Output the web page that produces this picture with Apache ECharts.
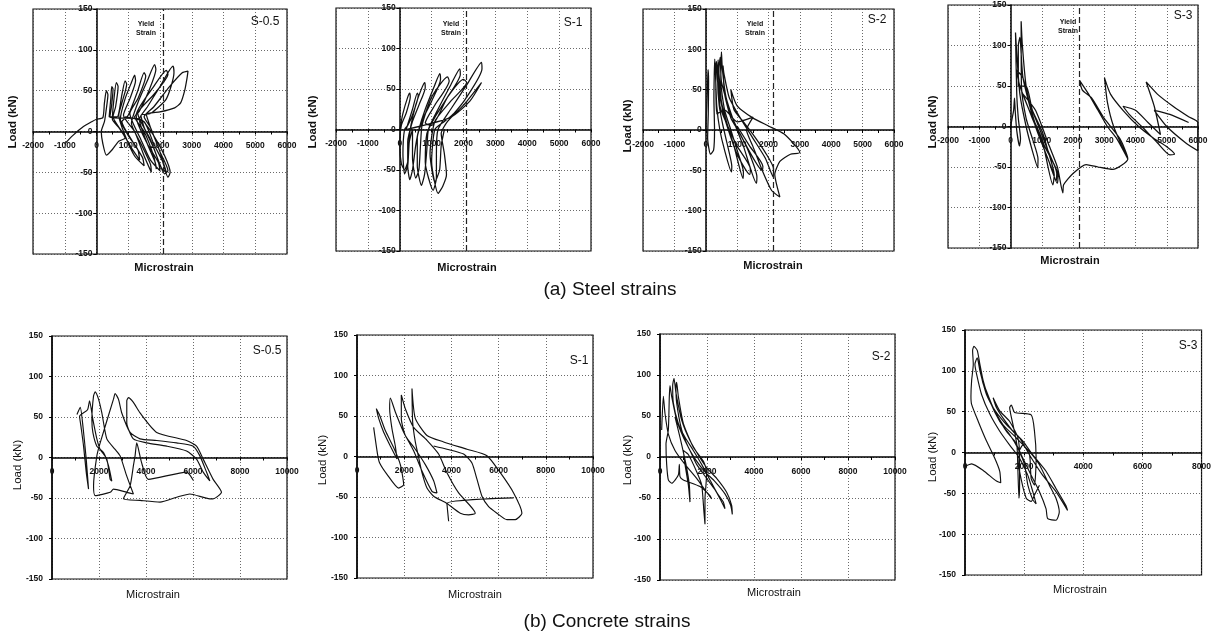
<!DOCTYPE html>
<html>
<head>
<meta charset="utf-8">
<script src="https://cdn.jsdelivr.net/npm/echarts@6/dist/echarts.min.js"></script>
<style>
html,body{margin:0;padding:0;background:#fff;}
#c{width:1214px;height:640px;}
</style>
</head>
<body>
<div id="c"></div>
<script>
// ---------- data (microstrain, load kN) ----------
const panelTitles = ['S-0.5', 'S-1', 'S-2', 'S-3', 'S-0.5', 'S-1', 'S-2', 'S-3'];
const captions = ['(a) Steel strains', '(b) Concrete strains'];
const steelXRange = [-2000, 6000];
const concXRange = [0, 10000];
const concXRangeS3 = [0, 8000];
const loadRange = [-150, 150];
const yieldStrain = [2100, 2100, 2150, 2200];
const yieldLabel = ['Yield', 'Strain'];

const steelS05 = [[-1000,-15],[-750,-5],[-450,5],[-150,12],[0,15],[200,17],
[250,35],[310,50],[360,45],[300,25],[250,12],
[150,0],[200,-15],[310,-29],[500,-22],[700,-12],[900,-8],[700,5],[500,15],
[550,40],[625,60],[680,55],[600,30],[520,18],
[800,0],[1100,-20],[1360,-35],[1300,-22],[1000,-5],[750,15],
[900,40],[1100,60],[1202,69],[1230,62],[1050,40],[850,20],
[1200,0],[1500,-30],[1727,-50],[1700,-40],[1400,-15],[1100,10],
[1300,35],[1600,62],[1832,82],[1870,76],[1650,50],[1350,25],[1200,18],
[1500,0],[1800,-30],[1885,-46],[1850,-38],[1600,-15],[1350,15],
[1600,30],[2000,55],[2410,80],[2440,72],[2200,40],[1700,22],
[1400,20],[1500,5],[1800,-20],[2147,-52],[2250,-48],[2000,-25],[1700,5],[1500,18],
[1800,30],[2300,55],[2700,72],[2882,74],[2850,65],[2777,50],[2650,35],[2462,29],[2000,24],[1570,21],
[1700,5],[2000,-25],[2252,-56],[2320,-50],[2150,-30],[1800,-5],[1400,15],
[400,18],[450,40],[480,55],[520,52],[470,30],[420,18],
[650,18],[800,45],[900,62],[950,58],[800,35],[700,20],
[900,-5],[1200,-30],[1500,-42],[1450,-32],[1100,-10],[800,12],
[1000,20],[1300,50],[1500,72],[1550,68],[1300,40],[1050,22],
[1400,-10],[1700,-35],[2000,-48],[1950,-38],[1600,-15],[1300,10],
[1250,20],[1800,55],[2200,75],[2250,70],[1800,45],[1300,22],
[1700,-10],[2050,-45],[2200,-50],[2100,-38],[1800,-15],[1500,12],[900,18]];

const steelS1 = [[0,0],[100,20],[250,40],[314,45],[330,40],[200,20],[50,5],
[0,-20],[50,-42],[150,-50],[250,-40],[300,-10],[350,5],
[500,30],[700,52],[785,58],[800,52],[600,30],[400,10],
[250,-15],[250,-45],[314,-62],[400,-50],[500,-20],[600,0],
[800,25],[1100,55],[1257,69],[1280,62],[1000,35],[750,15],
[550,-10],[550,-45],[680,-69],[780,-55],[850,-25],[900,0],
[1200,25],[1600,55],[1885,75],[1900,68],[1500,40],[1100,15],
[850,-5],[800,-40],[1047,-75],[1150,-60],[1150,-30],[1200,0],
[1600,25],[2100,55],[2565,83],[2580,75],[2100,40],[1700,20],[1400,10],
[1100,0],[1000,-40],[1204,-79],[1350,-70],[1466,-56],[1400,-30],[1300,-5],[1500,10],
[2000,30],[2565,58],[2200,35],[1600,15],
[200,0],[400,25],[550,45],[580,42],[400,18],[250,5],
[150,0],[100,-30],[150,-55],[250,-45],[300,-15],[400,0],
[400,-35],[500,-60],[600,-50],[650,-20],[700,5],
[1000,40],[1500,65],[1550,60],[1100,30],[800,8],
[1000,5],[1500,40],[2000,62],[2100,58],[1600,35],[1100,10],
[950,-30],[1100,-65],[1250,-50],[1300,-20],[1400,0]];

const steelS2 = [[0,0],[30,30],[60,60],[74,75],[90,60],[80,20],[60,-10],[150,-30],[250,-25],[280,0],
[260,40],[287,88],[310,70],[350,30],[450,0],[600,-25],[819,-52],[830,-45],[700,-20],[550,5],[430,30],
[380,60],[394,87],[420,70],[500,35],[700,5],[900,-20],[1191,-60],[1200,-52],[1000,-25],[800,0],[600,25],
[480,60],[500,97],[530,75],[650,40],[900,10],[1200,-20],[1617,-66],[1630,-58],[1400,-30],[1100,-5],[800,15],
[600,45],[550,80],[580,70],[750,40],[1100,15],[1500,-10],[1900,-35],[2149,-58],[2160,-48],[1900,-28],[1500,-5],[1200,10],
[900,25],[800,50],[1000,30],[1500,15],[2000,5],[2500,-5],[3000,-28],[2700,-30],[2362,-39],[2200,-55],[2362,-83],[2100,-75],[1800,-50],[1500,-20],[1300,0],[1510,16],
[1000,10],[600,25],[350,20],[320,70],[340,85],[380,60],[600,15],[1000,-30],[1400,-55],[1420,-48],[1000,-20],[700,5],
[450,30],[420,75],[460,90],[500,60],[800,20],[1300,-20],[1800,-50],[1820,-45],[1400,-20],[1000,5]];

const steelS3 = [[0,0],[100,20],[128,35],[150,20],[200,-5],[288,-24],[320,-15],[250,10],[200,40],[160,116],[200,90],[300,40],[500,0],[700,-30],[875,-51],[880,-40],[700,-15],[500,10],[350,50],[341,130],[380,100],[500,50],[700,15],[1000,-20],[1300,-50],[1461,-67],[1480,-58],[1200,-30],[900,0],[600,30],[400,60],[181,70],[300,50],[600,20],[1000,-15],[1355,-72],[1400,-60],[1200,-30],[1000,-5],[700,20],[500,50],
[250,50],[250,100],[300,110],[400,60],[800,0],[1200,-40],[1500,-70],[1520,-60],[1100,-25],[700,10],[400,40],
[800,20],[1200,-20],[1500,-50],[1675,-82],[1700,-72],[2000,-58],[2421,-47],[2800,-50],[3275,-53],[3755,-40],[3500,-15],[3000,10],[2600,35],[2300,45],[2208,57],[2500,40],[2800,20],[3100,0],[3400,-15],[3755,-40],[3300,0],[3100,30],[3008,60],[3200,40],[3600,20],[4100,0],[4600,-15],[5000,-25],[5248,-34],[5100,-35],[4700,-20],[4200,0],[3800,15],[3600,25],[4000,20],[4400,5],[4800,-10],[4600,25],[4341,55],[4700,40],[5200,25],[5700,12],[5995,5],[5995,-30],[5600,-20],[5000,0],[4600,20],[5100,15],[5700,5]];

const concS05 = [[1061,53],[1202,62],[1315,39],[1456,-2],[1555,-39],[1456,-18],[1343,14],[1230,39],[1174,51],
[1513,59],[1598,70],[1739,47],[1909,23],[2050,10],[2333,-2],[2475,-27],[2545,-29],[2404,-10],[2192,6],[1909,14],[1739,31],[1697,47],
[1768,76],[1838,81],[1980,72],[2121,55],[2333,23],[2687,10],[2899,2],[3182,-23],[3464,-45],[3182,-43],[2616,-39],[2475,-43],[1838,-47],[1768,-35],[1909,2],[2050,18],
[2616,72],[2687,79],[2828,72],[2969,55],[3323,31],[3747,23],[4454,21],[5303,18],[6010,14],[6292,2],[6575,-18],[6717,-29],[6434,-18],[6151,-2],[5727,8],[4878,14],[4030,18],[3464,23],[3182,43],
[3182,70],[3252,74],[3464,68],[3747,55],[4454,31],[5727,21],[6151,14],[6434,-2],[6858,-27],[7211,-43],[6858,-51],[6717,-51],[5868,-45],[5303,-49],[4596,-55],[3747,-53],[3040,-51],[3323,-35],[3464,-10],[3535,2],[3606,18],
[3800,-5],[4101,-27],[5727,-18],[6010,-28]];

const concS1 = [[706,36],[875,2],[960,-8],[1271,-22],[1765,-39],[1977,-35],[1836,-10],[1553,11],[1200,32],[960,51],[819,59],[918,47],[1130,30],[1412,13],[1694,-3],
[1624,13],[1483,34],[1384,59],[1412,72],[1624,55],[1977,30],[2400,7],[2753,-18],[3177,-43],[3389,-45],[3248,-30],[2895,-10],[2471,9],[2047,26],[1878,47],
[1878,76],[2047,59],[2400,36],[2965,20],[3459,3],[3812,-20],[4307,-45],[5013,-70],[4730,-72],[4377,-70],[3812,-58],[3248,-49],[2965,-39],[2753,-20],[2612,-1],[2471,18],[2358,43],
[2330,84],[2471,47],[2965,26],[3671,18],[4660,9],[5507,1],[6072,-20],[6636,-45],[6989,-70],[6707,-78],[6354,-78],[5930,-70],[5577,-62],[5295,-49],[5083,-28],[4871,-8],[4518,3],[3812,9],[3248,13]];
const concS1Tail = [[6636,-51],[3812,-58],[3883,-80]];

const concS2 = [[71,33],[142,74],[213,53],[355,28],[638,8],[1064,-9],[1560,-26],[1985,-43],[2198,-51],[2127,-47],[1702,-36],[993,-28],[851,-24],[822,-9],[780,-22],[496,-32],[355,-28],[284,-9],[255,16],[355,33],
[397,74],[425,87],[496,74],[709,45],[993,24],[1276,8],[1560,-9],[1985,-26],[2340,-40],[2552,-51],[2765,-63],[2694,-55],[2411,-43],[2127,-28],[1773,-9],[1418,8],[1064,24],[780,41],[567,66],
[539,87],[596,96],[681,78],[922,45],[1276,20],[1702,-1],[1985,-13],[2411,-26],[2836,-43],[3049,-59],[3077,-70],[3006,-59],[2765,-45],[2340,-30],[1914,-18],[1560,-5],[1205,12],[922,33],[709,66],
[681,83],[709,91],[780,74],[993,41],[1418,12],[1843,-5],[1985,-18],[1957,-34],[1914,-51],[1914,-82],[1872,-68],[1773,-34],[1560,-18],[1205,3],[993,8],[1064,-9],[1205,-34],[1276,-55],[1248,-34],[1106,-9],[851,24],[638,49]];

const concS3 = [[0,-17],[224,-14],[615,-22],[1063,-35],[1209,-37],[1175,-23],[1007,-7],[727,14],[448,38],[224,59],[201,69],
[224,88],[280,108],[257,125],[302,130],[414,125],[504,108],[615,88],[839,63],[1175,38],[1511,22],[1790,5],[2014,-15],[2126,-40],[2294,-58],[2406,-63],[2294,-48],[2126,-28],[1846,-7],[1511,9],[1175,26],[839,47],[560,71],[392,96],[336,108],
[414,116],[504,100],[727,71],[1063,47],[1399,26],[1679,14],[1958,-7],[2238,-28],[2518,-48],[2742,-69],[2797,-81],[3077,-83],[3189,-73],[3077,-56],[2853,-40],[2518,-15],[2182,1],[1734,18],[1287,34],[951,55],[727,75],[560,92],[504,104],
[615,84],[951,55],[1399,34],[1846,18],[2182,-3],[2630,-28],[3077,-48],[3469,-71],[3413,-65],[3077,-44],[2742,-23],[2294,-3],[1958,14],[1623,26],[1287,42],[1063,55],[951,67],
[1175,51],[1511,38],[1790,18],[1846,-7],[1846,-40],[1824,-56],[1790,-23],[1756,9],[1623,34],[1511,55],[1567,58],[1679,49],[2238,46],[2350,26],[2406,-7],[2350,-40],[2238,-32],[2182,-3],[1958,9],[1790,-3],[1846,-23],[2070,-56],[2238,-60],[2350,-52],[2518,-40]];

// ---------- layout ----------
const FONT = 'Liberation Sans, Arial, sans-serif';
const grids = [
  {left:33, top:9, width:254, height:245},
  {left:336, top:8, width:255, height:243},
  {left:643, top:9, width:251, height:242},
  {left:948, top:5, width:250, height:243},
  {left:52, top:336, width:235, height:243},
  {left:357, top:335, width:236, height:243},
  {left:660, top:334, width:235, height:246},
  {left:965, top:330, width:238, height:245}
];
const titlePos = [[265,22],[573,23],[877,20],[1183,16],[267,351],[579,361],[881,357],[1188,346]];
const loadPos = [[13,122],[313,122],[628,126],[933,122],[18,465],[323,460],[628,460],[933,457]];
const microPos = [[164,268],[467,268],[773,266],[1070,261],[153,595],[475,595],[774,593],[1080,590]];
const yieldPos = [[146,24],[451,24],[755,24],[1068,22]];

const xRanges = [steelXRange, steelXRange, steelXRange, steelXRange, concXRange, concXRange, concXRange, concXRangeS3];
const paths = [[steelS05],[steelS1],[steelS2],[steelS3],[concS05],[concS1, concS1Tail],[concS2],[concS3]];

const dotted = {show:true, lineStyle:{color:'#444', type:[1,2], width:0.8}};
const xAxes = [], yAxes = [], series = [];
for (let i = 0; i < 8; i++) {
  const top = i < 4;
  const g = grids[i];
  const xr = xRanges[i];
  const zeroFrac = (0 - xr[0]) / (xr[1] - xr[0]);
  xAxes.push({
    gridIndex:i, type:'value', min:xr[0], max:xr[1], interval: top ? 1000 : 2000,
    position:'bottom', offset: -g.height / 2,
    axisLine:{onZero:false, lineStyle:{color:'#000', width:1.5}},
    axisTick:{show:true, length:3, lineStyle:{color:'#000', width:1}},
    minorTick:{show:true, splitNumber:2, length:3, lineStyle:{color:'#000', width:1}},
    minorSplitLine:{show:false},
    axisLabel:{fontSize:8.5, fontWeight:'bold', color:'#111', margin:10, fontFamily:FONT,
      formatter: v => String(v)},
    splitLine:dotted
  });
  yAxes.push({
    gridIndex:i, type:'value', min:loadRange[0], max:loadRange[1], interval:50,
    position:'left', offset: -g.width * zeroFrac,
    axisLine:{onZero:false, lineStyle:{color:'#000', width:1.5}},
    axisTick:{show:true, length:3, lineStyle:{color:'#000', width:1}},
    axisLabel:{fontSize:8.5, fontWeight:'bold', color:'#111', margin: top ? 4 : 9, fontFamily:FONT,
      formatter: v => String(v)},
    splitLine:dotted
  });
  paths[i].forEach((arr, k) => {
    const s = {
      type:'line', xAxisIndex:i, yAxisIndex:i, data:arr, showSymbol:false, symbol:'none',
      smooth:0.2, silent:true, animation:false, z:3,
      lineStyle:{color:'#111', width: top ? 1.25 : 1.15}
    };
    if (top && k === 0) {
      s.markLine = {symbol:'none', silent:true, animation:false, label:{show:false},
        lineStyle:{color:'#222', type:[6,3], width:1.2},
        data:[{xAxis:yieldStrain[i]}]};
    }
    series.push(s);
  });
}

const graphics = [];
for (let i = 0; i < 8; i++) {
  graphics.push({type:'text', x:titlePos[i][0], y:titlePos[i][1], z:10,
    style:{text:panelTitles[i], font:'12px '+FONT, fill:'#111', textAlign:'center', textVerticalAlign:'middle', align:'center', verticalAlign:'middle'}});
  graphics.push({type:'text', x:loadPos[i][0], y:loadPos[i][1], rotation:Math.PI/2, z:10,
    style:{text:'Load (kN)', font:(i<4?'bold ':'')+'11.5px '+FONT, fill:'#111', textAlign:'center', textVerticalAlign:'middle', align:'center', verticalAlign:'middle'}});
  graphics.push({type:'text', x:microPos[i][0], y:microPos[i][1], z:10,
    style:{text:'Microstrain', font:(i<4?'bold ':'')+'11px '+FONT, fill:'#111', textAlign:'center', textVerticalAlign:'middle', align:'center', verticalAlign:'middle'}});
}
for (let i = 0; i < 4; i++) {
  yieldLabel.forEach((t, k) => {
    graphics.push({type:'text', x:yieldPos[i][0], y:yieldPos[i][1] + k*9.5, z:10,
      style:{text:t, font:'bold 7px '+FONT, fill:'#111', textAlign:'center', textVerticalAlign:'middle', align:'center', verticalAlign:'middle'}});
  });
}
graphics.push({type:'text', x:610, y:290, z:10,
  style:{text:captions[0], font:'19px '+FONT, fill:'#111', textAlign:'center', textVerticalAlign:'middle', align:'center', verticalAlign:'middle'}});
graphics.push({type:'text', x:607, y:622, z:10,
  style:{text:captions[1], font:'19px '+FONT, fill:'#111', textAlign:'center', textVerticalAlign:'middle', align:'center', verticalAlign:'middle'}});

const chart = echarts.init(document.getElementById('c'), null, {renderer:'canvas'});
chart.setOption({
  backgroundColor:'#fff',
  animation:false,
  grid: grids.map(g => Object.assign({show:true, borderColor:'#111', borderWidth:1.2, backgroundColor:'transparent'}, g)),
  xAxis: xAxes,
  yAxis: yAxes,
  series: series,
  graphic: graphics
});
</script>
</body>
</html>
